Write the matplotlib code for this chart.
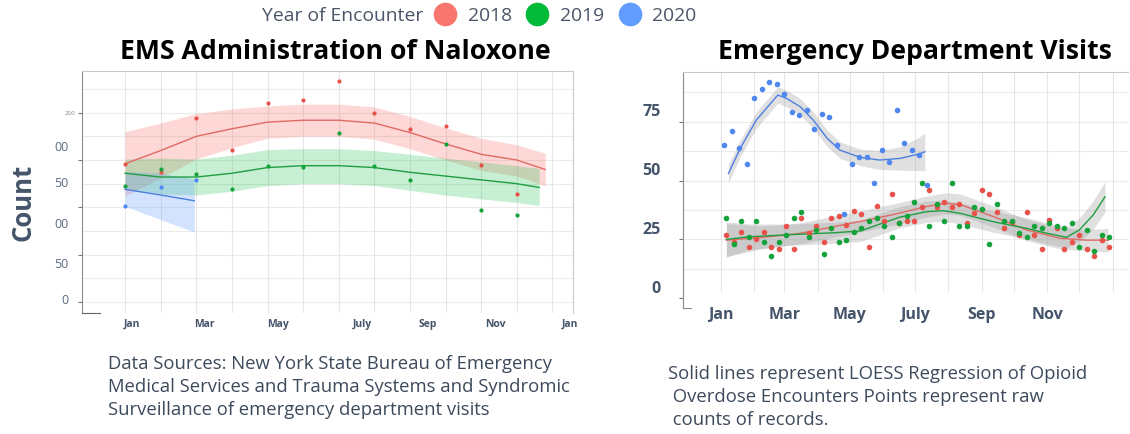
import matplotlib.pyplot as plt
import numpy as np
from matplotlib.lines import Line2D
from matplotlib.transforms import ScaledTranslation

plt.rcParams["font.family"] = ["Open Sans", "DejaVu Sans"]

RED, GREEN, BLUE = "#F8766D", "#00BA38", "#619CFF"
PT_RED, PT_GREEN, PT_BLUE = "#E8524A", "#14A33A", "#4F86F0"
LN_RED, LN_GREEN, LN_BLUE = "#E06A64", "#1E9E40", "#4C7FE0"
SLATE = "#44546A"

# ---- EMS administration of naloxone (monthly counts) ----
months = np.arange(1, 13)
ems_2018 = [146, 137, 194, 161, 210, 213, 233, 200, 183, 186, 145, 114]
ems_2019 = [123, 140, 135, 119, 144, 143, 179, 144, 129, 167, 97, 92]
months_2020 = [1, 2, 3]
ems_2020 = [101, 121, 129]

# LOESS fits (month, fit, lower, upper)
ems_fit_x_2018 = [1, 2, 3, 4, 5, 6, 7, 8, 9, 10, 11, 12, 12.8]
ems_fit_2018 = [146, 160, 175, 183, 190, 192, 192, 189, 179, 167, 156, 150, 140]
ems_lo_2018 = [112, 131, 151, 163, 173, 175, 175, 172, 162, 150, 139, 133, 123]
ems_hi_2018 = [180, 189, 199, 204, 207, 209, 209, 206, 196, 184, 173, 166, 157]

ems_fit_x_2019 = [1, 2, 3, 4, 5, 6, 7, 8, 9, 10, 11, 12, 12.63]
ems_fit_2019 = [136, 132, 132, 136, 142, 144, 144, 142, 137, 133, 129, 125, 121]
ems_lo_2019 = [120, 114, 113, 117, 123, 125, 125, 123, 118, 113, 109, 105, 102]
ems_hi_2019 = [151, 152, 151, 155, 161, 162, 162, 160, 156, 152, 148, 144, 141]

ems_fit_x_2020 = [1, 2, 2.94]
ems_fit_2020 = [119, 113, 107]
ems_lo_2020 = [101, 87, 74]
ems_hi_2020 = [138, 136, 130]

ems_tick_labels = ["Jan", "Mar", "May", "July", "Sep", "Nov", "Jan"]
ems_ylabels = ["00", "50", "00", "50", "0"]

# ---- Emergency department visits (weekly counts) ----
week_days_1819 = np.arange(52) * 7 + 5
week_days_2020 = np.arange(28) * 7 + 3
ed_2018 = [27.0, 23.9, 28.0, 21.9, 25.0, 28.0, 21.9, 20.9, 30.8, 20.9,
           34.0, 27.8, 30.8, 23.9, 34.0, 34.9, 31.1, 36.9, 35.8, 21.9,
           39.0, 32.8, 44.1, 32.0, 32.8, 32.9, 38.9, 46.0, 38.9, 41.0,
           38.9, 40.2, 32.0, 36.1, 46.0, 44.1, 36.8, 29.8, 32.4, 26.9,
           36.8, 26.9, 20.9, 33.1, 29.8, 20.9, 23.9, 26.9, 20.9, 18.0,
           24.7, 21.9]
ed_2019 = [34.0, 23.0, 32.8, 26.1, 32.8, 23.9, 18.0, 24.0, 27.0, 34.0,
           36.8, 26.1, 29.0, 18.9, 30.0, 23.9, 24.9, 28.0, 29.8, 32.8,
           34.0, 30.8, 26.0, 32.0, 34.9, 41.0, 49.1, 30.8, 40.0, 32.8,
           49.1, 30.8, 30.8, 38.9, 37.9, 22.9, 40.0, 32.8, 32.8, 27.7,
           25.9, 30.8, 29.7, 31.8, 30.8, 29.7, 31.8, 21.9, 28.9, 20.1,
           26.9, 25.9]
ed_2020 = [64.9, 71.0, 63.9, 57.0, 84.9, 88.8, 91.8, 90.8, 86.8, 78.9,
           78.0, 79.9, 72.0, 78.1, 77.0, 64.9, 35.8, 57.1, 60.1, 60.1,
           49.1, 62.9, 58.0, 79.9, 66.0, 62.9, 60.8, 48.1]

ed_fit_x_2018 = [5, 36, 61, 74, 105, 136, 161, 192, 210, 223, 254, 285, 316, 341, 361]
ed_fit_2018 = [24.7, 25.8, 26.9, 27.6, 30.4, 33.2, 35.6, 39.0, 40.3, 39.8, 34.7, 29.0, 25.5, 24.7, 24.7]
ed_se_2018 = [7, 5, 4.5, 4.5, 4.5, 4.5, 4.5, 4.5, 4.5, 4.5, 4.5, 4.5, 4.5, 4.5, 5]

ed_fit_x_2019 = [5, 25, 62, 104, 130, 148, 167, 192, 207, 223, 254, 285, 304, 322, 334, 347, 358]
ed_fit_2019 = [25.0, 26.1, 27.0, 27.8, 28.6, 31.5, 34.5, 36.8, 37.2, 36.1, 32.5, 29.7, 27.6, 25.9, 29.0, 35.4, 43.1]
ed_se_2019 = [7.5, 5.5, 4.5, 4.5, 4.5, 4.5, 4.5, 4.5, 4.5, 4.5, 4.5, 4.5, 4.5, 4.5, 5, 6, 6.5]

ed_fit_x_2020 = [7, 18, 33, 53, 61, 74, 86, 99, 111, 130, 148, 167, 184, 190]
ed_fit_2020 = [53.0, 63.7, 75.7, 86.3, 84.9, 81.3, 75.7, 67.9, 62.9, 59.8, 58.7, 59.4, 61.2, 62.2]
ed_se_2020 = [4, 3.5, 3.5, 3.5, 3.5, 3.5, 3.5, 3.5, 3.5, 3.5, 4, 5, 7, 8]

month_start_days = [0, 31, 59, 90, 120, 151, 181, 212, 243, 273, 304, 334, 365]
ed_tick_days = [0, 59, 120, 181, 243, 304]
ed_tick_labels = ["Jan", "Mar", "May", "July", "Sep", "Nov"]
ed_yticks = [0, 25, 50, 75]

fig = plt.figure(figsize=(11.3, 4.34), dpi=100)

# ================= left panel =================
ax = fig.add_axes([0.0726, 0.2788, 0.4345, 0.5576])
ax.set_xlim(-0.21, 13.58)
ax.set_ylim(-11.6, 244)

for v in np.arange(0, 250, 25):
    ax.axhline(v, color="#ebebeb", lw=0.8, zorder=0)
for m in range(1, 14):
    ax.axvline(m, color="#e6e6e6", lw=0.8, zorder=0)

ax.fill_between(ems_fit_x_2018, ems_lo_2018, ems_hi_2018, color=RED, alpha=0.28, lw=0)
ax.fill_between(ems_fit_x_2019, ems_lo_2019, ems_hi_2019, color=GREEN, alpha=0.22, lw=0)
ax.fill_between(ems_fit_x_2020, ems_lo_2020, ems_hi_2020, color=BLUE, alpha=0.28, lw=0)
ax.plot(ems_fit_x_2018, ems_fit_2018, color=LN_RED, lw=1.0)
ax.plot(ems_fit_x_2019, ems_fit_2019, color=LN_GREEN, lw=1.0)
ax.plot(ems_fit_x_2020, ems_fit_2020, color=LN_BLUE, lw=1.0)

ax.scatter(months, ems_2018, s=9, color=PT_RED, zorder=3, lw=0)
ax.scatter(months, ems_2019, s=9, color=PT_GREEN, zorder=3, lw=0)
ax.scatter(months_2020, ems_2020, s=9, color=PT_BLUE, zorder=3, lw=0)

ax.set_yticks([0, 50, 100, 150, 200])
ax.set_yticklabels(["", "", "", "", "200"], fontsize=4.5, color="#888888")
ax.tick_params(axis="y", length=3, width=0.8, color="#777777", pad=2)
for yv, lab in zip([162.7, 124.7, 82.4, 40.1, 1.1], ems_ylabels):
    ax.text(-0.028, yv, lab, transform=ax.get_yaxis_transform(), ha="right",
            va="center", fontsize=9, color="#5a6a80")

ax.set_xticks([1.2, 3.22, 5.3, 7.66, 9.51, 11.39, 13.5])
ax.set_xticklabels(ems_tick_labels, fontsize=7.5, fontweight="bold", color=SLATE)
ax.tick_params(axis="x", length=0, pad=4)

ax.spines["left"].set_color("#8a8a8a")
ax.spines["top"].set_color("#c8c8c8")
ax.spines["right"].set_color("#c8c8c8")
ax.spines["bottom"].set_color("#666666")
ax.spines["bottom"].set_bounds(-0.21, 0.3)

fig.text(0.297, 0.880, "EMS Administration of Naloxone", ha="center", va="center",
         fontsize=19.2, fontweight="bold", color="black")
fig.text(0.0204, 0.533, "Count", rotation=90, ha="center", va="center",
         fontsize=18.5, fontweight="bold", color=SLATE)

# ================= right panel =================
ax2 = fig.add_axes([0.6044, 0.2903, 0.3938, 0.5437])
ax2.set_xlim(-35.4, 379.4)
ax2.set_ylim(-4.1, 96.05)

for v in np.arange(12.5, 95, 12.5):
    ax2.axhline(v, color="#ebebeb", lw=0.8, zorder=0)
ax2.vlines(month_start_days, 2.7, 96.05, color="#e6e6e6", lw=0.8, zorder=0)

for fx, fy, se, col in [(ed_fit_x_2018, ed_fit_2018, ed_se_2018, LN_RED),
                        (ed_fit_x_2019, ed_fit_2019, ed_se_2019, LN_GREEN),
                        (ed_fit_x_2020, ed_fit_2020, ed_se_2020, LN_BLUE)]:
    fy = np.array(fy)
    se = np.array(se)
    ax2.fill_between(fx, fy - se, fy + se, color="#9a9a9a", alpha=0.3, lw=0, zorder=1)
    ax2.plot(fx, fy, color=col, lw=1.0, zorder=2)

ax2.scatter(week_days_1819, ed_2018, s=16, color=PT_RED, zorder=3, lw=0)
ax2.scatter(week_days_1819, ed_2019, s=16, color=PT_GREEN, zorder=3, lw=0)
ax2.scatter(week_days_2020, ed_2020, s=16, color=PT_BLUE, zorder=3, lw=0)

ax2.set_yticks(ed_yticks)
ax2.set_yticklabels([str(t) for t in ed_yticks], fontsize=11.5, fontweight="bold",
                    color=SLATE)
ax2.tick_params(axis="y", length=3, width=0.8, color="#777777", pad=13)
for lab in ax2.get_yticklabels():
    lab.set_transform(lab.get_transform() + ScaledTranslation(0, 0.115, fig.dpi_scale_trans))

ax2.set_xticks(ed_tick_days)
ax2.set_xticklabels(ed_tick_labels, fontsize=11.5, fontweight="bold", color=SLATE)
ax2.tick_params(axis="x", length=0, pad=-1)

ax2.spines["left"].set_color("#8a8a8a")
ax2.spines["top"].set_color("#c8c8c8")
ax2.spines["right"].set_visible(False)
ax2.spines["bottom"].set_color("#8a8a8a")
ax2.spines["bottom"].set_bounds(-35.4, -28)

fig.text(0.8097, 0.880, "Emergency Department Visits", ha="center", va="center",
         fontsize=19.2, fontweight="bold", color="black")

# ================= legend & notes =================
fig.text(0.232, 0.963, "Year of Encounter", ha="left", va="center",
         fontsize=13.9, color="#4a5568")
handles = [Line2D([], [], marker="o", ls="", color=c, markersize=16)
           for c in [RED, GREEN, BLUE]]
leg = fig.legend(handles, ["2018", "2019", "2020"], ncol=3, loc="center left",
                 bbox_to_anchor=(0.384, 0.963), frameon=False, fontsize=13.9,
                 handlelength=1.15, handletextpad=0.6, columnspacing=0.75,
                 borderaxespad=0, borderpad=0)
for t in leg.get_texts():
    t.set_color("#4a5568")

fig.text(0.0956, 0.108,
         "Data Sources: New York State Bureau of Emergency\n"
         "Medical Services and Trauma Systems and Syndromic\n"
         "Surveillance of emergency department visits",
         ha="left", va="center", fontsize=13.3, color="#3d4a5c", linespacing=1.36)
fig.text(0.591, 0.085,
         "Solid lines represent LOESS Regression of Opioid\n"
         " Overdose Encounters Points represent raw\n"
         " counts of records.",
         ha="left", va="center", fontsize=13.3, color="#3d4a5c", linespacing=1.36)

fig.savefig("out.png", dpi=100)
